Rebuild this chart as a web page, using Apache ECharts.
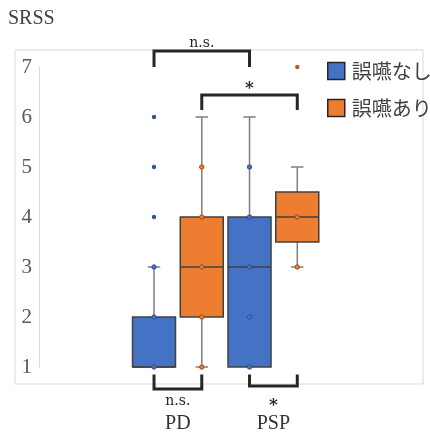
<!DOCTYPE html>
<html><head><meta charset="utf-8">
<script src="https://cdn.jsdelivr.net/npm/echarts@6/dist/echarts.min.js"></script>
<style>html,body{margin:0;padding:0;background:#fff}#c{width:430px;height:434px}</style>
</head><body><div id="c"></div>
<script>
// ---- data ----
const categories = ['PD', 'PSP'];
const groupNames = ['誤嚥なし', '誤嚥あり'];
// [min, Q1, median, Q3, max] per category
const boxNo  = [[1, 1, 1, 2, 3], [1, 1, 3, 4, 6]];
const boxYes = [[1, 2, 3, 4, 6], [3, 3.5, 4, 4.5, 5]];
// inner points shown inside the whiskers
const innerNo  = [[1, 2, 3], [1, 2, 3, 4, 5]];
const innerYes = [[1, 2, 3, 4, 5], [3, 4]];
// outliers
const outNo  = [[4, 5, 6], []];
const outYes = [[], [7]];
const yTicks = { min: 1, max: 7, step: 1 };
// significance brackets: [cat1, group1, cat2, group2, barLevel, endLevel]
const brackets = [[0, 0, 1, 0, 7.32, 7.0], [0, 1, 1, 1, 6.44, 6.14], [0, 0, 0, 1, 0.56, 0.85], [1, 0, 1, 1, 0.62, 0.85]];
const bracketLabels = ['n.s.', '*', 'n.s.', '*'];

// ---- styles ----
const fills = ['#4472C4', '#ED7D31'];
const pointStroke = ['#2F5597', '#9C4A14'];
const outFill = ['#2F5597', '#C55A11'];

function slotX(api, c, g) {
  const bw = api.size([1, 0])[0];
  return { x: api.coord([c, 0])[0] + (g === 0 ? -0.25 : 0.25) * bw, bw: bw };
}

function boxRender(g) {
  return function (params, api) {
    const c = api.value(0);
    const mn = api.value(1), q1 = api.value(2), md = api.value(3), q3 = api.value(4), mx = api.value(5);
    const s = slotX(api, c, g);
    const x = s.x, half = 0.225 * s.bw, cap = 0.065 * s.bw;
    const y = v => api.coord([c, v])[1];
    const wStyle = { stroke: '#7f7f7f', lineWidth: 1.5 };
    const ch = [];
    if (mx > q3) {
      ch.push({ type: 'line', shape: { x1: x, y1: y(q3), x2: x, y2: y(mx) }, style: wStyle });
      ch.push({ type: 'line', shape: { x1: x - cap, y1: y(mx), x2: x + cap, y2: y(mx) }, style: wStyle });
    }
    if (mn < q1) {
      ch.push({ type: 'line', shape: { x1: x, y1: y(q1), x2: x, y2: y(mn) }, style: wStyle });
      ch.push({ type: 'line', shape: { x1: x - cap, y1: y(mn), x2: x + cap, y2: y(mn) }, style: wStyle });
    }
    ch.push({ type: 'rect', shape: { x: x - half, y: y(q3), width: 2 * half, height: y(q1) - y(q3) },
      style: { fill: fills[g], stroke: '#404040', lineWidth: 1.5 } });
    ch.push({ type: 'line', shape: { x1: x - half, y1: y(md), x2: x + half, y2: y(md) },
      style: { stroke: '#404040', lineWidth: 1.5 } });
    return { type: 'group', children: ch };
  };
}

function pointRender(params, api) {
  const c = api.value(0), v = api.value(1), g = api.value(2), kind = api.value(3);
  const s = slotX(api, c, g);
  const yy = api.coord([c, v])[1];
  if (kind === 0) {
    return { type: 'circle', shape: { cx: s.x, cy: yy, r: 2.2 },
      style: { fill: fills[g], stroke: pointStroke[g], lineWidth: 1 } };
  }
  return { type: 'circle', shape: { cx: s.x, cy: yy, r: 2.2 }, style: { fill: outFill[g], stroke: null } };
}

function bracketRender(params, api) {
  const c1 = api.value(0), g1 = api.value(1), c2 = api.value(2), g2 = api.value(3);
  const lv = api.value(4), ev = api.value(5);
  const x1 = slotX(api, c1, g1).x, x2 = slotX(api, c2, g2).x;
  const yl = api.coord([c1, lv])[1], ye = api.coord([c1, ev])[1];
  const top = ye > yl;
  const label = bracketLabels[params.dataIndex];
  const star = label === '*';
  let ty, va;
  if (star) { ty = top ? yl - 6 : yl + 20; va = 'middle'; }
  else { ty = top ? yl - 1 : yl + 5; va = top ? 'bottom' : 'top'; }
  return {
    type: 'group', children: [
      { type: 'polyline', shape: { points: [[x1, ye], [x1, yl], [x2, yl], [x2, ye]] },
        style: { stroke: '#262626', lineWidth: 3, fill: null } },
      { type: 'text', style: {
        text: label, x: (x1 + x2) / 2, y: ty, align: 'center', verticalAlign: va,
        font: star ? 'bold 17px "DejaVu Serif"' : '14px "DejaVu Serif"', fill: '#262626' } }
    ]
  };
}

const pointsData = [];
[[innerNo, 0, 0], [innerYes, 1, 0], [outNo, 0, 1], [outYes, 1, 1]].forEach(([arr, g, kind]) => {
  arr.forEach((vals, c) => vals.forEach(v => pointsData.push([c, v, g, kind])));
});

const chart = echarts.init(document.getElementById('c'));
chart.setOption({
  animation: false,
  title: { text: 'SRSS', left: 8, top: 9, padding: 0,
    textStyle: { fontFamily: 'Liberation Serif', fontSize: 20, fontWeight: 'normal', color: '#404040' } },
  legend: {
    orient: 'vertical', left: 327, top: 61, padding: 0, itemWidth: 17, itemHeight: 17, itemGap: 17, icon: 'rect',
    textStyle: { fontFamily: 'Noto Sans CJK JP', fontSize: 20, color: '#404040', padding: [0, 0, 0, 2] },
    data: groupNames.map((n, i) => ({ name: n, itemStyle: { color: fills[i], borderColor: '#262626', borderWidth: 1.5 } }))
  },
  grid: [
    { left: 15, top: 50, right: 7, bottom: 50, show: true, borderColor: '#d9d9d9', borderWidth: 1, backgroundColor: 'transparent' },
    { left: 130.15, right: 108.85, top: 67, bottom: 67 }
  ],
  xAxis: [
    { gridIndex: 0, type: 'value', show: false },
    { gridIndex: 1, type: 'category', data: categories, axisLine: { show: false }, axisTick: { show: false },
      axisLabel: { margin: 47, fontFamily: 'Liberation Serif', fontSize: 20, color: '#333' } }
  ],
  yAxis: [
    { gridIndex: 0, type: 'value', show: false },
    { gridIndex: 1, type: 'value', min: yTicks.min, max: yTicks.max, interval: yTicks.step, offset: 91.15,
      axisLine: { show: true, lineStyle: { color: '#d9d9d9', width: 1 } }, axisTick: { show: false },
      splitLine: { show: false },
      axisLabel: { margin: 7, fontFamily: 'Liberation Serif', fontSize: 21, color: '#595959' } }
  ],
  series: [
    { name: groupNames[0], type: 'custom', xAxisIndex: 1, yAxisIndex: 1, clip: false, z: 2,
      itemStyle: { color: fills[0] }, renderItem: boxRender(0),
      encode: { x: 0, y: [1, 2, 3, 4, 5] }, data: boxNo.map((b, c) => [c].concat(b)) },
    { name: groupNames[1], type: 'custom', xAxisIndex: 1, yAxisIndex: 1, clip: false, z: 2,
      itemStyle: { color: fills[1] }, renderItem: boxRender(1),
      encode: { x: 0, y: [1, 2, 3, 4, 5] }, data: boxYes.map((b, c) => [c].concat(b)) },
    { name: 'points', type: 'custom', xAxisIndex: 1, yAxisIndex: 1, clip: false, z: 3,
      renderItem: pointRender, encode: { x: 0, y: 1 }, data: pointsData },
    { name: 'brackets', type: 'custom', xAxisIndex: 1, yAxisIndex: 1, clip: false, z: 4,
      renderItem: bracketRender, encode: { x: 0, y: 4 }, data: brackets }
  ]
});
</script></body></html>
